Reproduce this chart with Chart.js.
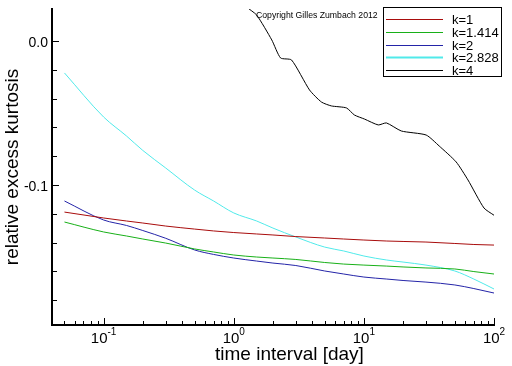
<!DOCTYPE html>
<html>
<head>
<meta charset="utf-8">
<script src="https://cdn.jsdelivr.net/npm/chart.js@4/dist/chart.umd.min.js"></script>
<style>
  html,body{margin:0;padding:0;background:#fff;}
  canvas{display:block;}
</style>
</head>
<body>
<canvas id="chart" width="512" height="366"></canvas>
<script>
/* ====== data ====== */
const intervals = [0.05,0.1,0.15,0.2,0.3,0.5,0.7,1,1.5,2,3,5,7,10,15,20,30,50,70,100];
const kurtK1    = [-0.1188,-0.1229,-0.1250,-0.1264,-0.1285,-0.1306,-0.1319,-0.1330,-0.1340,-0.1347,-0.1358,-0.1368,-0.1375,-0.1382,-0.1389,-0.1392,-0.1396,-0.1406,-0.1413,-0.1417];
const kurtK1414 = [-0.1257,-0.1326,-0.1354,-0.1375,-0.1403,-0.1444,-0.1465,-0.1486,-0.1500,-0.1507,-0.1517,-0.1538,-0.1549,-0.1556,-0.1563,-0.1569,-0.1576,-0.1583,-0.1601,-0.1618];
const kurtK2    = [-0.1111,-0.1243,-0.1281,-0.1316,-0.1370,-0.1451,-0.1482,-0.1507,-0.1528,-0.1542,-0.1559,-0.1597,-0.1618,-0.1639,-0.1653,-0.1663,-0.1674,-0.1694,-0.1719,-0.1750];
const kurtK2828 = [-0.0222,-0.0528,-0.0660,-0.0760,-0.0882,-0.1035,-0.1111,-0.1194,-0.1250,-0.1299,-0.1361,-0.1431,-0.1458,-0.1493,-0.1521,-0.1535,-0.1556,-0.1597,-0.1653,-0.1722];
// k=4 only enters the frame above ~1.2 days
const intervalsK4 = [1.15,1.26,1.5,1.96,2.29,2.78,3.82,4.72,5.63,7.35,8.46,10.1,12.9,14.9,19.4,30.1,37.9,51.2,63.1,83.8,100];
const kurtK4      = [0.030,0.0236,0.018,0.0007,-0.0118,-0.0132,-0.034,-0.0424,-0.0451,-0.0465,-0.0514,-0.0542,-0.0583,-0.0569,-0.0625,-0.0653,-0.0729,-0.084,-0.0965,-0.116,-0.121];

const seriesLabels = ['k=1','k=1.414','k=2','k=2.828','k=4'];
const seriesColors = ['#a80c0c','#18b018','#2424a8','#50eaea','#000000'];

/* ====== axes ====== */
const xMajor = [0.1,1,10,100];
const xExpo  = ['-1','0','1','2'];
const xMinor = [0.05,0.06,0.07,0.08,0.09,0.2,0.3,0.4,0.5,0.6,0.7,0.8,0.9,2,3,4,5,6,7,8,9,20,30,40,50,60,70,80,90];
const yMajor = [0,-0.1];
const yLabels = ['0.0','-0.1'];
const yMinor = [-0.02,-0.04,-0.06,-0.08,-0.12,-0.14,-0.16,-0.18];

const pts = (xs, ys) => xs.map((x,i)=>({x, y: ys[i]}));
const allSeries = [
  pts(intervals,kurtK1), pts(intervals,kurtK1414), pts(intervals,kurtK2),
  pts(intervals,kurtK2828), pts(intervalsK4,kurtK4)
];

/* ====== extra drawing: inward ticks, labels, legend ====== */
const decor = {
  id: 'decor',
  afterDraw(chart){
    const {ctx, chartArea:a, scales:{x, y}} = chart;
    ctx.save();
    ctx.strokeStyle = '#000';
    ctx.lineWidth = 1;
    const line = (x1,y1,x2,y2) => { ctx.beginPath(); ctx.moveTo(x1,y1); ctx.lineTo(x2,y2); ctx.stroke(); };

    // x ticks point up into the frame
    xMinor.forEach(v => { const px = Math.round(x.getPixelForValue(v))+0.5; line(px,a.bottom,px,a.bottom-4); });
    xMajor.forEach(v => { const px = Math.round(x.getPixelForValue(v))+0.5; line(px,a.bottom,px,a.bottom-7); });
    // y ticks point right
    yMinor.forEach(v => { const py = Math.round(y.getPixelForValue(v))+0.5; line(a.left,py,a.left+5,py); });
    yMajor.forEach(v => { const py = Math.round(y.getPixelForValue(v))+0.5; line(a.left,py,a.left+7,py); });

    ctx.fillStyle = '#000';
    ctx.textBaseline = 'alphabetic';

    // x labels 10^n
    xMajor.forEach((v,i) => {
      const px = x.getPixelForValue(v);
      ctx.font = '15px "Liberation Sans", Arial, sans-serif';
      const wb = ctx.measureText('10').width;
      ctx.font = '10px "Liberation Sans", Arial, sans-serif';
      const we = ctx.measureText(xExpo[i]).width;
      const x0 = px - (wb+we)/2;
      ctx.textAlign = 'left';
      ctx.font = '15px "Liberation Sans", Arial, sans-serif';
      ctx.fillText('10', x0, a.bottom+18);
      ctx.font = '10px "Liberation Sans", Arial, sans-serif';
      ctx.fillText(xExpo[i], x0+wb, a.bottom+10);
    });

    // y labels
    ctx.font = '14px "Liberation Sans", Arial, sans-serif';
    ctx.textAlign = 'right';
    yMajor.forEach((v,i) => ctx.fillText(yLabels[i], a.left-4, y.getPixelForValue(v)+6));

    // axis titles
    ctx.font = '19px "Liberation Sans", Arial, sans-serif';
    ctx.textAlign = 'left';
    ctx.fillText('time interval [day]', 215, 360);
    ctx.save();
    ctx.translate(18, (a.top+a.bottom)/2);
    ctx.rotate(-Math.PI/2);
    ctx.textAlign = 'center';
    ctx.fillText('relative excess kurtosis', 0, 0);
    ctx.restore();

    // copyright
    ctx.font = '8.7px "Liberation Sans", Arial, sans-serif';
    ctx.textAlign = 'left';
    ctx.fillText('Copyright Gilles Zumbach 2012', 256, 18);

    // legend
    ctx.fillStyle = '#fff';
    ctx.fillRect(383,7,119,70);
    ctx.strokeStyle = '#000';
    ctx.strokeRect(383.5,7.5,118,69);
    ctx.font = '13px "Liberation Sans", Arial, sans-serif';
    seriesLabels.forEach((lab,i) => {
      const ly = 19 + i*12.75;
      ctx.strokeStyle = seriesColors[i];
      ctx.lineWidth = i===3 ? 2 : 1;
      line(386, Math.round(ly)+0.5, 443, Math.round(ly)+0.5);
      ctx.fillStyle = '#000';
      ctx.fillText(lab, 452, ly+5);
    });
    ctx.restore();
  }
};

new Chart(document.getElementById('chart'), {
  type: 'line',
  data: {
    datasets: allSeries.map((d,i)=>({
      label: seriesLabels[i],
      data: d,
      borderColor: seriesColors[i],
      borderWidth: 1,
      pointRadius: 0,
      fill: false,
      cubicInterpolationMode: i===4 ? 'default' : 'monotone',
      tension: i===4 ? 0.2 : 0
    }))
  },
  options: {
    responsive: false,
    animation: false,
    devicePixelRatio: 1,
    layout: {padding: {top: 9, right: 18, left: 0, bottom: 0}},
    plugins: {legend: {display: false}, tooltip: {enabled: false}},
    scales: {
      x: {
        type: 'logarithmic', min: 0.0401, max: 100,
        afterFit: s => { s.height = 41; },
        ticks: {display: false},
        grid: {display: false},
        border: {display: true, color: '#000', width: 2}
      },
      y: {
        type: 'linear', min: -0.1972, max: 0.0222,
        afterFit: s => { s.width = 52; },
        ticks: {display: false},
        grid: {display: false},
        border: {display: true, color: '#000', width: 2}
      }
    }
  },
  plugins: [decor]
});
</script>
</body>
</html>
